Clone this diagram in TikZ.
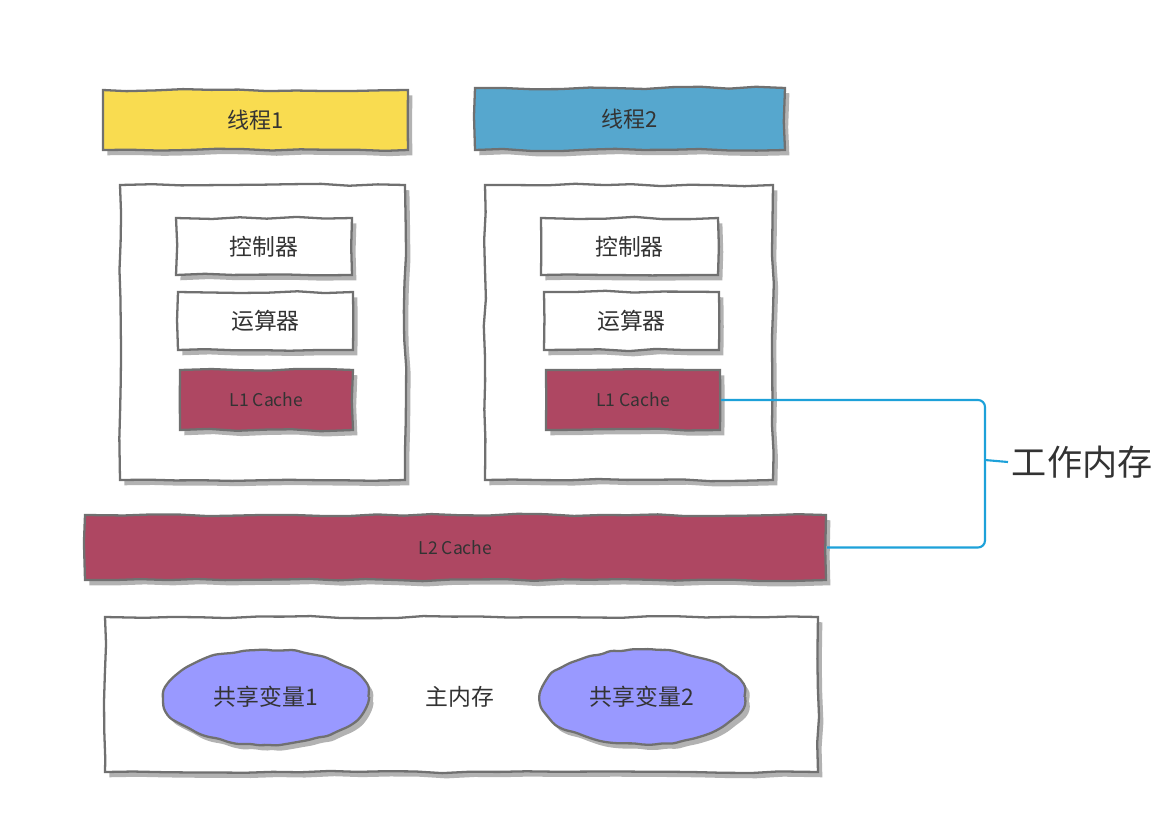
\documentclass[tikz,border=0pt]{standalone}
\usepackage{fontspec}
\newfontfamily\cjk{Noto Sans CJK SC}
\usetikzlibrary{fit,shadows,shapes.geometric,decorations.pathmorphing}
\definecolor{threadyellow}{HTML}{F9DC50}
\definecolor{threadblue}{HTML}{56A7CE}
\definecolor{cachered}{HTML}{AE4762}
\definecolor{varpurple}{HTML}{9999FF}
\definecolor{wireblue}{HTML}{1DA1D9}
\definecolor{edgegray}{HTML}{707070}
\definecolor{inkgray}{HTML}{333333}
\begin{document}
\pgfmathsetseed{7}
\begin{tikzpicture}[x=0.02cm,y=-0.02cm,
    sketch/.style={draw=edgegray, line width=1.3pt, inner sep=0pt,
      decorate, decoration={random steps, segment length=16pt, amplitude=0.7pt},
      drop shadow={shadow xshift=2.5pt, shadow yshift=-3pt, opacity=0.3, fill=black}},
    boxtext/.style={font=\cjk\fontsize{#1}{#1}\selectfont, text=inkgray},
    threadbox/.style={sketch, label={[boxtext=12.5]center:#1}},
    corebox/.style={sketch, fill=white},
    unitbox/.style={sketch, fill=white, label={[boxtext=13]center:#1}},
    cachebox/.style={sketch, fill=cachered, label={[boxtext=10]center:#1}},
    varblob/.style={sketch, ellipse, fill=varpurple, minimum width=4.1cm, minimum height=1.9cm,
      rounded corners=2pt, decoration={random steps, segment length=6pt, amplitude=0.8pt},
      boxtext=13},
    wire/.style={draw=wireblue, line width=1.2pt, rounded corners=4pt}]
  \useasboundingbox (0,0) rectangle (1170,829);
  % threads
  \node[threadbox=线程1, fill=threadyellow, fit={(103,90) (408,150)}] (t1) {};
  \node[threadbox=线程2, fill=threadblue, fit={(475,88) (785,150)}] (t2) {};
  % cores
  \node[corebox, fit={(120,185) (405,480)}] (core1) {};
  \node[corebox, fit={(485,185) (773,480)}] (core2) {};
  \node[unitbox=控制器, fit={(176,218) (352,275)}] (ctl1) {};
  \node[unitbox=运算器, fit={(178,292) (353,350)}] (alu1) {};
  \node[cachebox=L1 Cache, fit={(180,370) (353,430)}] (l1a) {};
  \node[unitbox=控制器, fit={(541,218) (718,275)}] (ctl2) {};
  \node[unitbox=运算器, fit={(544,292) (719,350)}] (alu2) {};
  \node[cachebox=L1 Cache, fit={(546,370) (720,430)}] (l1b) {};
  % shared cache
  \node[cachebox=L2 Cache, fit={(85,515) (826,580)}] (l2) {};
  % main memory
  \node[corebox, fit={(105,617) (818,772)}] (mem) {};
  \node[varblob] (var1) at (266,697) {共享变量1};
  \node[varblob] (var2) at (642,697) {共享变量2};
  \node[boxtext=13] (mainlbl) at (460,697) {主内存};
  % working memory brace
  \coordinate (br) at (985,460);
  \node[boxtext=20, anchor=west, inner sep=2pt] (wm) at (1008,462) {工作内存};
  \draw[wire] (l1b.east) -| (br) |- (l2.east);
  \draw[wire] (br) -- (wm.west);
\end{tikzpicture}
\end{document}
